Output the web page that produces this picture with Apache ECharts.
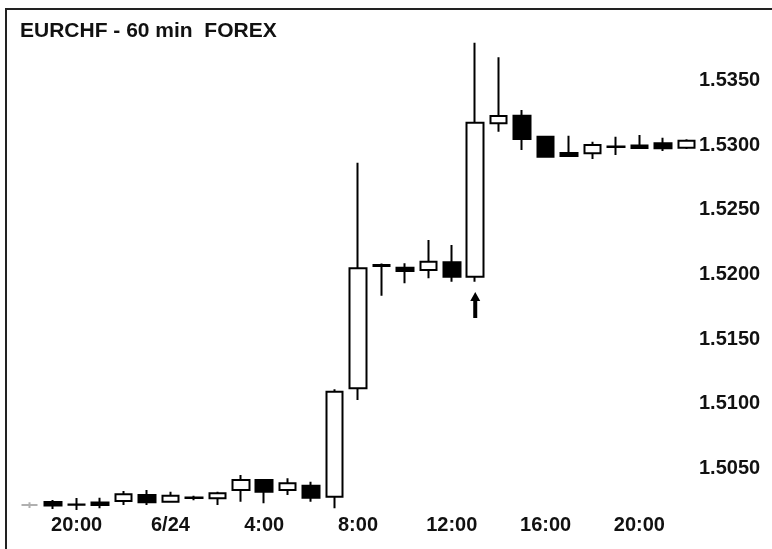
<!DOCTYPE html>
<html>
<head>
<meta charset="utf-8">
<script src="https://cdn.jsdelivr.net/npm/echarts@6/dist/echarts.min.js"></script>
<style>
html,body{margin:0;padding:0;background:#fff;}
#chart{width:772px;height:549px;}
</style>
</head>
<body>
<div id="chart"></div>
<script>
// hourly bars, 6/23 18:00 .. 6/24 22:00
const categories = ['6/23 18:00','6/23 19:00','6/23 20:00','6/23 21:00','6/23 22:00','6/23 23:00',
  '6/24 0:00','6/24 1:00','6/24 2:00','6/24 3:00','6/24 4:00','6/24 5:00','6/24 6:00','6/24 7:00',
  '6/24 8:00','6/24 9:00','6/24 10:00','6/24 11:00','6/24 12:00','6/24 13:00','6/24 14:00',
  '6/24 15:00','6/24 16:00','6/24 17:00','6/24 18:00','6/24 19:00','6/24 20:00','6/24 21:00','6/24 22:00'];
const openVals  = [1.50218,1.50241,1.50220,1.50237,1.50249,1.50295,1.50243,1.50272,1.50270,1.50334,1.50411,1.50334,1.50367,1.50282,
  1.51120,1.52065,1.52052,1.52034,1.52094,1.51982,1.53168,1.53226,1.53064,1.52938,1.52936,1.52985,1.52996,1.53013,1.52979];
const closeVals = [1.50218,1.50214,1.50222,1.50218,1.50301,1.50239,1.50290,1.50275,1.50308,1.50411,1.50321,1.50386,1.50274,1.51094,
  1.52047,1.52072,1.52026,1.52098,1.51982,1.53172,1.53224,1.53046,1.52910,1.52915,1.53000,1.52989,1.52977,1.52974,1.53033];
const lowVals   = [1.50195,1.50187,1.50180,1.50192,1.50218,1.50218,1.50240,1.50255,1.50218,1.50243,1.50231,1.50295,1.50243,1.50192,
  1.51029,1.51835,1.51931,1.51970,1.51944,1.51944,1.53103,1.52961,1.52902,1.52907,1.52892,1.52923,1.52969,1.52954,1.52970];
const highVals  = [1.50240,1.50257,1.50272,1.50274,1.50326,1.50334,1.50321,1.50290,1.50321,1.50450,1.50415,1.50424,1.50398,1.51112,
  1.52863,1.52085,1.52086,1.52266,1.52227,1.53791,1.53678,1.53270,1.53072,1.53072,1.53026,1.53064,1.53077,1.53056,1.53045];
const tickIndex  = [2,6,10,14,18,22,26];
const tickLabels = ['20:00','6/24','4:00','8:00','12:00','16:00','20:00'];
const arrowAt = {index: 19, value: 1.51764};
const titleText = 'EURCHF - 60 min  FOREX';

const FONT = 'Liberation Sans, Arial, sans-serif';
const data = openVals.map((o, i) => {
  const item = {value: [o, closeVals[i], lowVals[i], highVals[i]]};
  if (i === 0) item.itemStyle = {color: '#b0b0b0', color0: '#b0b0b0', borderColor: '#b0b0b0', borderColor0: '#b0b0b0'};
  return item;
});

const chart = echarts.init(document.getElementById('chart'), null, {renderer: 'canvas'});
chart.setOption({
  animation: false,
  backgroundColor: '#fff',
  title: {
    text: titleText, left: 20, top: 21, padding: 0,
    textStyle: {fontSize: 21, fontWeight: 'bold', color: '#111', fontFamily: FONT}
  },
  graphic: [{
    type: 'polyline', silent: true,
    shape: {points: [[6, 549], [6, 9], [772, 9]]},
    style: {stroke: '#222', lineWidth: 2, fill: null}
  }],
  grid: {left: 18, right: 74, top: 15.6, bottom: 15.8, containLabel: false},
  xAxis: {
    type: 'category', data: categories, boundaryGap: true,
    axisLine: {show: false}, axisTick: {show: false}, splitLine: {show: false},
    axisLabel: {
      interval: 0, margin: -18, color: '#111', fontSize: 20, fontWeight: 'bold', fontFamily: FONT,
      formatter: (v, idx) => { const k = tickIndex.indexOf(idx); return k >= 0 ? tickLabels[k] : ''; }
    }
  },
  yAxis: {
    type: 'value', position: 'right', scale: true,
    min: 1.5000, max: 1.5400, interval: 0.005,
    axisLine: {show: false}, axisTick: {show: false}, splitLine: {show: false},
    axisLabel: {
      margin: 1, color: '#111', fontSize: 20, fontWeight: 'bold', fontFamily: FONT,
      formatter: v => (v < 1.50001 || v > 1.53999) ? '' : v.toFixed(4)
    }
  },
  series: [{
    type: 'candlestick',
    data: data,
    barWidth: 17,
    itemStyle: {color: '#ffffff', color0: '#000000', borderColor: '#000000', borderColor0: '#000000', borderWidth: 2},
    markPoint: {
      silent: true,
      symbol: 'path://M5,0 L10,9 L7,9 L7,26 L3,26 L3,9 L0,9 Z',
      symbolSize: [10, 26],
      itemStyle: {color: '#000'},
      label: {show: false},
      data: [{coord: [arrowAt.index, arrowAt.value]}]
    }
  }]
});
</script>
</body>
</html>
